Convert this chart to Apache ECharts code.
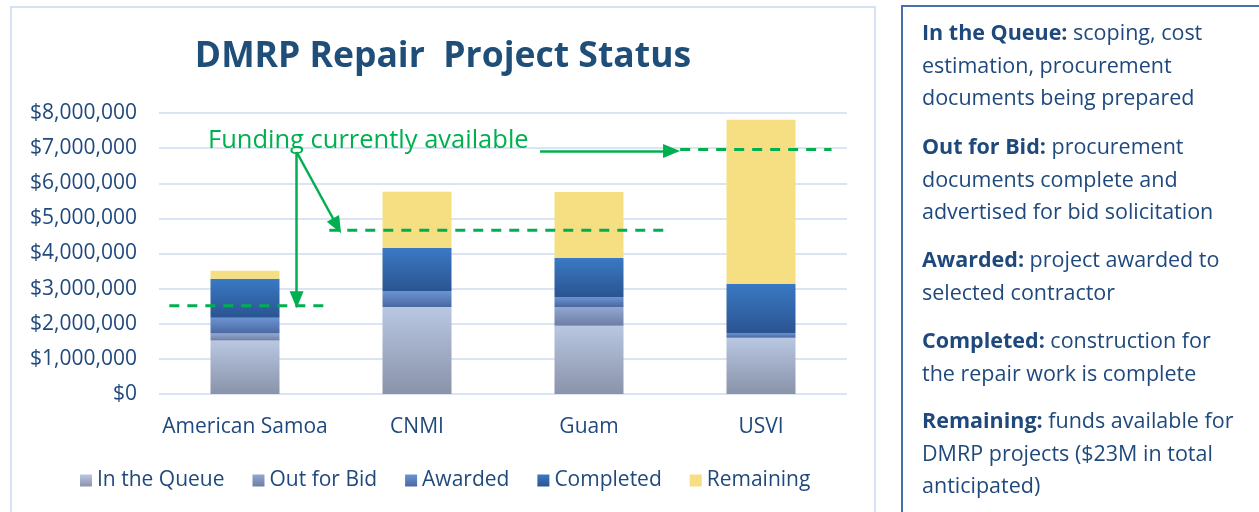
<!DOCTYPE html>
<html>
<head>
<meta charset="utf-8">
<script src="https://cdn.jsdelivr.net/npm/echarts@6/dist/echarts.min.js"></script>
<style>
html,body{margin:0;padding:0;background:#fff;}
#drew-status{width:1259px;height:512px;}
</style>
</head>
<body>
<div id="drew-status"></div>
<script>
var categories = ['American Samoa', 'CNMI', 'Guam', 'USVI'];
var inQueue   = [1520000, 2480000, 1940000, 1600000];
var outForBid = [200000, 0, 540000, 0];
var awarded   = [450000, 450000, 280000, 140000];
var completed = [1110000, 1230000, 1110000, 1400000];
var remaining = [230000, 1600000, 1880000, 4670000];
var yTicks = [0, 1000000, 2000000, 3000000, 4000000, 5000000, 6000000, 7000000, 8000000];
// funding currently available, with the category span each dashed line covers
var fundingLevels = [2510000, 4660000, 6960000];
var fundingSpans  = [[-0.44, 0.47], [0.49, 2.44], [2.53, 3.41]];
// arrows from the label: [x1, y1, x2, y2] in data units
var fundingArrows = [
	[0.30, 6890000, 0.30, 2680000],
	[0.30, 6890000, 0.535, 4790000],
	[1.715, 6920000, 2.48, 6920000]
];

var navy = '#1f497d';
var green = '#00b050';
var font = '"Open Sans", sans-serif';

function grad(top, bottom){
	return new echarts.graphic.LinearGradient(0, 0, 0, 1, [
		{offset: 0, color: top},
		{offset: 1, color: bottom}
	]);
}

function barSeries(name, data, color){
	return {
		name: name,
		type: 'bar',
		stack: 'status',
		barWidth: 69,
		data: data,
		itemStyle: {color: color},
		emphasis: {disabled: true}
	};
}

var series = [
	barSeries('In the Queue', inQueue, grad('#b9c7e1', '#8993aa')),
	barSeries('Out for Bid', outForBid, grad('#93a7d1', '#6c7ea4')),
	barSeries('Awarded', awarded, grad('#6b94d3', '#4a68a0')),
	barSeries('Completed', completed, grad('#3a79c4', '#2a5491')),
	barSeries('Remaining', remaining, '#f6df82')
];

for(var i = 0; i < fundingLevels.length; i++){
	series.push({
		name: 'funding' + i,
		type: 'line',
		xAxisIndex: 1,
		symbol: 'none',
		silent: true,
		data: [[fundingSpans[i][0], fundingLevels[i]], [fundingSpans[i][1], fundingLevels[i]]],
		lineStyle: {color: green, width: 3, type: [10, 8]},
		z: 5
	});
}

var arrowLines = [];
for(var j = 0; j < fundingArrows.length; j++){
	var a = fundingArrows[j];
	arrowLines.push([
		{coord: [a[0], a[1]], symbol: 'none'},
		{coord: [a[2], a[3]], symbol: 'triangle', symbolSize: [14, 17]}
	]);
}
series[5].markLine = {
	silent: true,
	animation: false,
	label: {show: false},
	lineStyle: {color: green, width: 2.5, type: 'solid'},
	itemStyle: {color: green},
	data: arrowLines
};

function para(text, top){
	return {
		type: 'text',
		left: 922,
		top: top,
		style: {
			text: text,
			fill: navy,
			font: '21.5px ' + font,
			lineHeight: 32.5,
			rich: {
				b: {fill: navy, fontWeight: 'bold', fontSize: 21.5, fontFamily: font, lineHeight: 32.5}
			}
		}
	};
}

var myChart = echarts.init(document.getElementById('drew-status'));
var option = {
	animation: false,
	textStyle: {fontFamily: font},
	grid: {left: 159, right: 412, top: 113, bottom: 118},
	legend: {
		data: ['In the Queue', 'Out for Bid', 'Awarded', 'Completed', 'Remaining'],
		left: 75,
		top: 465,
		icon: 'rect',
		itemWidth: 12,
		itemHeight: 12,
		itemGap: 28,
		textStyle: {color: navy, fontSize: 21, fontFamily: font}
	},
	xAxis: [
		{
			type: 'category',
			data: categories,
			axisLine: {show: false},
			axisTick: {show: false},
			axisLabel: {color: navy, fontSize: 21, margin: 23, interval: 0}
		},
		{
			type: 'value',
			min: -0.5,
			max: 3.5,
			show: false
		}
	],
	yAxis: {
		type: 'value',
		min: yTicks[0],
		max: yTicks[yTicks.length - 1],
		interval: yTicks[1] - yTicks[0],
		axisLine: {show: false},
		axisTick: {show: false},
		splitLine: {lineStyle: {color: '#dbe4f2', width: 2}},
		axisLabel: {
			color: navy,
			fontSize: 21,
			margin: 22,
			formatter: function(v){ return '$' + v.toLocaleString('en-US'); }
		}
	},
	graphic: [
		{type: 'rect', shape: {x: 11, y: 7, width: 864, height: 520}, style: {fill: 'none', stroke: '#d5e2f4', lineWidth: 2}, silent: true},
		{type: 'rect', shape: {x: 902, y: 6, width: 380, height: 520}, style: {fill: 'none', stroke: '#4a6fac', lineWidth: 2}, silent: true},
		{type: 'text', x: 443, y: 57, style: {text: 'DMRP Repair  Project Status', fill: '#1f4e79', font: 'bold 35.5px ' + font, textAlign: 'center', textVerticalAlign: 'middle'}},
		{type: 'text', x: 208, y: 141, style: {text: 'Funding currently available', fill: green, font: '25.5px ' + font, textAlign: 'left', textVerticalAlign: 'middle'}, z: 10},
		para('{b|In the Queue:} scoping, cost\nestimation, procurement\ndocuments being prepared', 18),
		para('{b|Out for Bid:} procurement\ndocuments complete and\nadvertised for bid solicitation', 132),
		para('{b|Awarded:} project awarded to\nselected contractor', 245),
		para('{b|Completed:} construction for\nthe repair work is complete', 326),
		para('{b|Remaining:} funds available for\nDMRP projects ($23M in total\nanticipated)', 406)
	],
	series: series
};
myChart.setOption(option);
window.onresize = myChart.resize;
</script>
</body>
</html>
